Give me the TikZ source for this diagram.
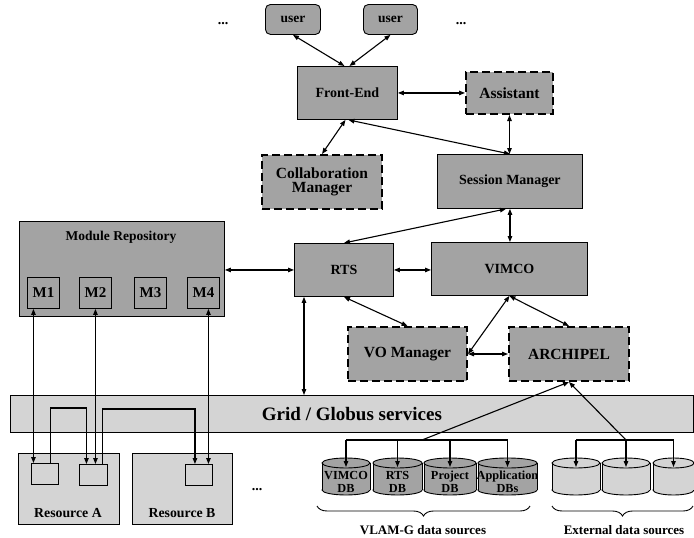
\documentclass[tikz,border=0pt]{standalone}
\usepackage{fontspec}
\setmainfont{Liberation Serif}
\usetikzlibrary{arrows.meta,decorations.pathreplacing,calc}
\definecolor{midgray}{gray}{0.64}
\definecolor{litegray}{gray}{0.83}
\newcommand{\fs}[1]{\bfseries\fontsize{#1}{#1}\selectfont}
\newcommand{\dbcyl}[5]{%
  \pgfmathsetmacro{\dbcx}{(#2+#3)/2}%
  \pgfmathsetmacro{\dbrx}{(#3-#2)/2}%
  \fill[#4] (\dbcx,490) ellipse[x radius=\dbrx, y radius=5];
  \draw[line width=0.9pt] (\dbcx,490) ellipse[x radius=\dbrx, y radius=5];
  \fill[#4] (#2,463) rectangle (#3,490);
  \draw[line width=0.9pt] (#2,463) -- (#2,490) (#3,463) -- (#3,490);
  \filldraw[fill=#4,line width=0.9pt] (\dbcx,463) ellipse[x radius=\dbrx, y radius=5];
  \coordinate (#1-top) at (\dbcx,467);
  \node[font=\fs{12.3}, align=center, inner sep=0pt] (#1) at (\dbcx,482) {#5};
}
\begin{document}
\begin{tikzpicture}[x=1pt,y=-1pt,
  box/.style={draw,fill=midgray,line width=0.9pt,anchor=north west,inner sep=1pt,align=center,font=\fs{14}},
  dbox/.style={box,line width=2pt,dash pattern=on 8pt off 4pt},
  lbox/.style={box,fill=litegray},
  lbl/.style={inner sep=0pt,align=center},
  conn/.style={line width=1.1pt,{Triangle[length=6pt,width=4.5pt]}-{Triangle[length=6pt,width=4.5pt]}},
  oneway/.style={line width=1.1pt,-{Triangle[length=6pt,width=4.5pt]}},
  plain/.style={line width=1.1pt}]
\useasboundingbox (0,0) rectangle (694,538);

% top level
\node[box,rounded corners=5pt,minimum width=55,minimum height=30,font=\fs{13.5}] (u1) at (265,4) {user};
\node[box,rounded corners=5pt,minimum width=54,minimum height=30,font=\fs{13.5}] (u2) at (363,4) {user};
\node[lbl,font=\fs{14}] (d1) at (223,24) {...};
\node[lbl,font=\fs{14}] (d2) at (461,24) {...};

\node[box,minimum width=100,minimum height=53,font=\fs{14}] (fe) at (297,66) {Front-End};
\node[dbox,minimum width=87,minimum height=42,font=\fs{15.5}] (as) at (465,71) {Assistant};
\node[dbox,minimum width=120,minimum height=54,font=\fs{15.5}] (co) at (261,154) {Collaboration\\[-1pt]Manager};
\node[box,minimum width=145,minimum height=54,font=\fs{14}] (se) at (437,154) {Session Manager};

% module repository
\node[box,minimum width=205,minimum height=95] (mr) at (19,221) {};
\node[lbl,font=\fs{13.5}] (mrt) at (121,237) {Module Repository};
\node[box,minimum width=32,minimum height=31,font=\fs{15}] (m1) at (27,277) {M1};
\node[box,minimum width=32,minimum height=31,font=\fs{15}] (m2) at (79,277) {M2};
\node[box,minimum width=32,minimum height=31,font=\fs{15}] (m3) at (134,277) {M3};
\node[box,minimum width=32,minimum height=31,font=\fs{15}] (m4) at (187,277) {M4};

\node[box,minimum width=99,minimum height=53,font=\fs{14}] (rts) at (294,243) {RTS};
\node[box,minimum width=156,minimum height=53,font=\fs{14}] (vi) at (431,242) {VIMCO};
\node[dbox,minimum width=119,minimum height=54,font=\fs{15.5}] (vo) at (347,326) {VO Manager};
\node[dbox,minimum width=120,minimum height=54,font=\fs{15.5}] (ar) at (508,326) {ARCHIPEL};

% grid
\node[lbox,minimum width=683,minimum height=37,font=\fs{19}] (grid) at (10,395) {Grid / Globus services};

% resources
\node[lbox,minimum width=101,minimum height=71] (ra) at (18,453) {};
\node[lbl,font=\fs{13.8}] (ral) at (68,513) {Resource A};
\node[lbox,minimum width=100,minimum height=71] (rb) at (132,453) {};
\node[lbl,font=\fs{13.8}] (rbl) at (182,513) {Resource B};
\node[lbox,minimum width=27,minimum height=21] (a1) at (31,463) {};
\node[lbox,minimum width=28,minimum height=21] (a2) at (79,464) {};
\node[lbox,minimum width=27,minimum height=21] (b1) at (185,464) {};
\node[lbl,font=\fs{14}] (d3) at (257,490) {...};

% databases
\dbcyl{db1}{322}{370}{midgray}{VIMCO\\[1pt]DB}
\dbcyl{db2}{373}{422}{midgray}{RTS\\[1pt]DB}
\dbcyl{db3}{424}{476}{midgray}{Project\\[1pt]DB}
\dbcyl{db4}{478}{537}{midgray}{Application\\[1pt]DBs}
\dbcyl{ex1}{552}{600}{litegray}{}
\dbcyl{ex2}{602}{650}{litegray}{}
\dbcyl{ex3}{653}{694}{litegray}{}

% braces and labels
\draw[decorate,decoration={brace,mirror,amplitude=10pt},line width=0.9pt] (317,506) -- (530,506);
\draw[decorate,decoration={brace,mirror,amplitude=10pt},line width=0.9pt] (552,506) -- (693,506);
\node[lbl,font=\fs{13}] (vl) at (423,530) {VLAM-G data sources};
\node[lbl,font=\fs{13}] (el) at (624,530) {External data sources};

% connectors top
\draw[conn] (u1.south) -- ([xshift=-3pt]fe.north);
\draw[conn] (u2.south) -- ([xshift=2pt]fe.north);
\draw[conn] (fe.east) -- (as.west |- fe.east);
\draw[conn] ([xshift=-2pt]fe.south) -- (co.north);
\draw[conn] ([xshift=1pt]fe.south) -- (se.north);
\draw[conn] (as.south) -- (as.south |- se.north);
\draw[conn] (se.south) -- (se.south |- vi.north);
\draw[conn] ([xshift=-4pt]se.south) -- (rts.north);
\draw[conn] (rts.west -| mr.east) -- (rts.west);
\draw[conn] (rts.east) -- (vi.west |- rts.east);
\draw[conn] (rts.south) -- (vo.north);
\draw[conn] (vi.south) -- (vo.east);
\draw[conn] (vi.south) -- (ar.north);
\draw[conn] (vo.east) -- (ar.west);
\draw[conn] ([xshift=10pt]rts.south west) -- ([xshift=10pt]rts.south west |- grid.north);

% modules to resources
\draw[conn] ([xshift=-10pt]m1.south) -- ([xshift=-10pt]m1.south |- a1.north);
\draw[conn] (m2.south) -- (m2.south |- a2.north);
\draw[conn] ([xshift=5pt]m4.south) -- ([xshift=5pt]m4.south |- b1.north);
\coordinate (e1) at (50,408);
\coordinate (e2) at (102,409);
\draw[oneway] ([xshift=5.5pt]a1.north) -- ([xshift=5.5pt]a1.north |- e1) -- ([xshift=-7pt]a2.north |- e1) -- ([xshift=-7pt]a2.north);
\draw[oneway] ([xshift=9pt]a2.north) -- ([xshift=9pt]a2.north |- e2) -- ([xshift=-4pt]b1.north |- e2) -- ([xshift=-4pt]b1.north);

% data source trees
\coordinate (t1) at (422,440);
\coordinate (t2) at (626,440);
\draw[plain] (db1-top |- t1) -- (db4-top |- t1);
\draw[plain] (ex1-top |- t2) -- (ex3-top |- t2);
\foreach \d in {db1,db2,db3,db4} \draw[oneway] (\d-top |- t1) -- (\d-top);
\foreach \d in {ex1,ex2,ex3} \draw[oneway] (\d-top |- t2) -- (\d-top);
\draw[oneway] (t1) -- (ar.south);
\draw[oneway] (t2) -- (ar.south);
\end{tikzpicture}
\end{document}
